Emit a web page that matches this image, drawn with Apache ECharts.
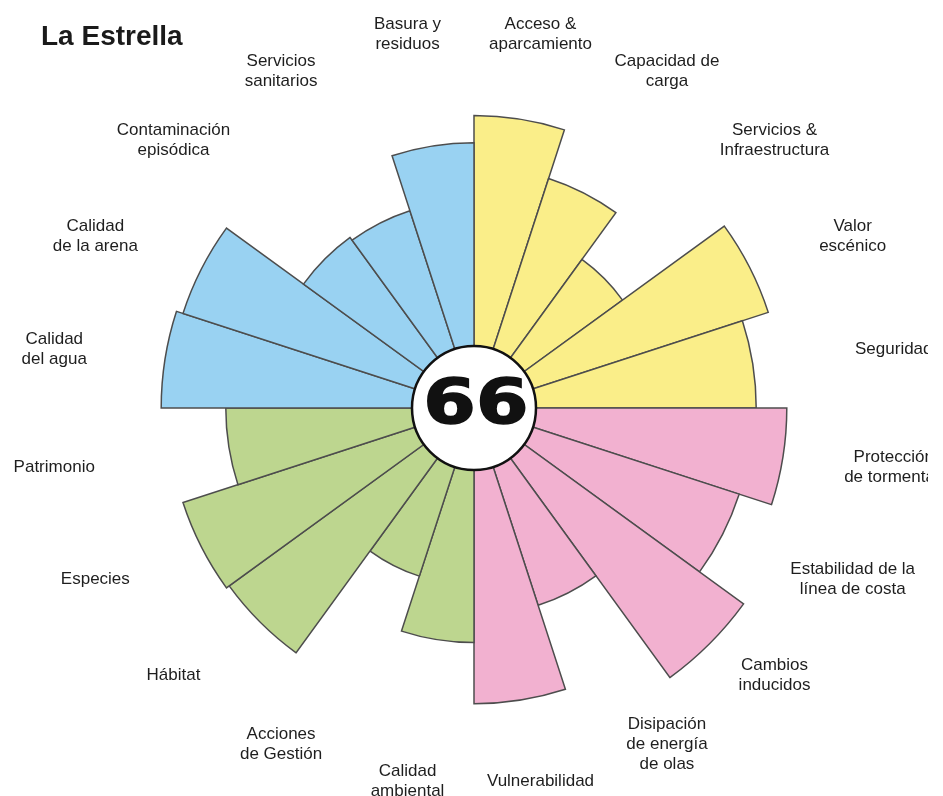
<!DOCTYPE html>
<html>
<head>
<meta charset="utf-8">
<script src="https://cdn.jsdelivr.net/npm/echarts@6/dist/echarts.min.js"></script>
<style>
  html, body { margin: 0; padding: 0; background: #fff; }
  #chart { width: 928px; height: 796px; }
</style>
</head>
<body>
<div id="chart"></div>
<script>
// indicators, clockwise from 12 o'clock
var categories = [
  'Acceso &\naparcamiento', 'Capacidad de\ncarga', 'Servicios &\nInfraestructura', 'Valor\nescénico', 'Seguridad',
  'Protección\nde tormentas', 'Estabilidad de la\nlínea de costa', 'Cambios\ninducidos', 'Disipación\nde energía\nde olas', 'Vulnerabilidad',
  'Calidad\nambiental', 'Acciones\nde Gestión', 'Hábitat', 'Especies', 'Patrimonio',
  'Calidad\ndel agua', 'Calidad\nde la arena', 'Contaminación\nepisódica', 'Servicios\nsanitarios', 'Basura y\nresiduos'
];
var values = [
  86, 71, 54, 91, 83,
  92, 82, 98, 61, 87,
  69, 52, 89, 90, 73,
  92, 90, 62, 61, 78
];
// 0 uso, 1 protección, 2 naturaleza, 3 calidad
var groups = [
  0, 0, 0, 0, 0,
  1, 1, 1, 1, 1,
  2, 2, 2, 2, 2,
  3, 3, 3, 3, 3
];
var score = 66;

var GROUP_COLORS = ['#FAEE89', '#F2B1D0', '#BDD68F', '#99D2F2'];
var FONT = "'Liberation Sans', Arial, sans-serif";
var CENTER = [474, 408];
var LABEL_RX = 425, LABEL_RY = 378;   // labels sit on an ellipse round the centre

var chart = echarts.init(document.getElementById('chart'));

var step = 360 / categories.length;
var labelData = categories.map(function (c, i) {
  var a = (i + 0.5) * step * Math.PI / 180;
  return {
    value: [0, i],
    label: { offset: [LABEL_RX * Math.sin(a), -LABEL_RY * Math.cos(a)] }
  };
});

chart.setOption({
  animation: false,
  backgroundColor: '#fff',
  title: {
    text: 'La Estrella',
    left: 36,
    top: 18,
    textStyle: { fontFamily: FONT, fontSize: 28, fontWeight: 'bold', color: '#1a1a1a' }
  },
  polar: { center: CENTER, radius: [0, 340] },
  angleAxis: {
    type: 'category',
    data: categories,
    startAngle: 90,
    clockwise: true,
    boundaryGap: true,
    axisLine: { show: false },
    axisTick: { show: false },
    axisLabel: { show: false },
    splitLine: { show: false }
  },
  radiusAxis: {
    min: 0,
    max: 100,
    axisLine: { show: false },
    axisTick: { show: false },
    axisLabel: { show: false },
    splitLine: { show: false }
  },
  // the overall score, drawn wide and heavy inside the centre disc
  graphic: [{
    type: 'text',
    x: CENTER[0] + 2,
    y: CENTER[1] - 1,
    scaleX: 1.22,
    z: 100,
    style: {
      text: String(score),
      font: "bold 62px 'DejaVu Sans', Verdana, sans-serif",
      textAlign: 'center',
      textVerticalAlign: 'middle',
      fill: '#111',
      stroke: '#111',
      lineWidth: 1.5
    }
  }],
  series: [
    {
      type: 'bar',
      coordinateSystem: 'polar',
      barCategoryGap: '0%',
      data: values.map(function (v, i) {
        return { value: v, itemStyle: { color: GROUP_COLORS[groups[i]] } };
      }),
      itemStyle: { borderColor: '#4d4d4d', borderWidth: 1.5 },
      emphasis: { disabled: true }
    },
    {
      type: 'scatter',
      coordinateSystem: 'polar',
      clip: false,
      symbolSize: 1,
      itemStyle: { color: 'rgba(0,0,0,0)', opacity: 1 },
      data: labelData,
      label: {
        show: true,
        position: 'inside',
        formatter: function (p) { return categories[p.dataIndex]; },
        fontFamily: FONT,
        fontSize: 17,
        lineHeight: 20,
        color: '#1e1e1e',
        align: 'center'
      },
      emphasis: { disabled: true },
      z: 5
    },
    {
      type: 'scatter',
      coordinateSystem: 'polar',
      data: [[0, 0]],
      symbolSize: 124,
      itemStyle: { color: '#fff', borderColor: '#111', borderWidth: 2.5, opacity: 1 },
      emphasis: { disabled: true },
      z: 10
    }
  ]
});
</script>
</body>
</html>
